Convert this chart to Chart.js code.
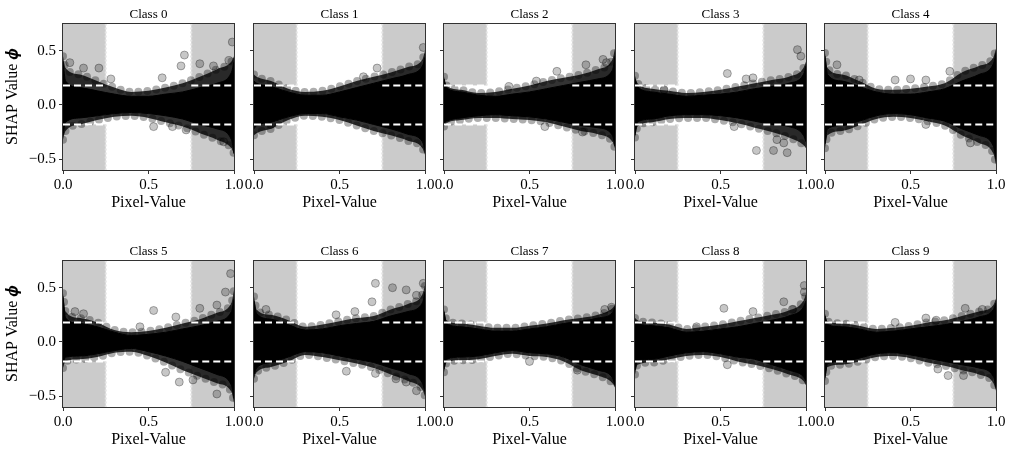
<!DOCTYPE html>
<html>
<head>
<meta charset="utf-8">
<title>SHAP values per class</title>
<script src="https://cdn.jsdelivr.net/npm/chart.js@4.4.1/dist/chart.umd.min.js"></script>
<style>
  body { margin: 0; background: #fff; }
  #page { position: relative; width: 1015px; height: 450px; overflow: hidden; }
  .panel { position: absolute; width: 291px; height: 218px; }
</style>
</head>
<body>
<div id="page"></div>
<script>
const classNames = ["Class 0", "Class 1", "Class 2", "Class 3", "Class 4",
                    "Class 5", "Class 6", "Class 7", "Class 8", "Class 9"];

const pixelGrid = [0, 0.015, 0.1, 0.2, 0.3, 0.4, 0.5, 0.6, 0.7, 0.8, 0.9, 0.985, 1.0];

// solid part of the SHAP cloud (upper / lower edge), one row per class
const coreUpper = [
    [0.40, 0.22, 0.16, 0.13, 0.10, 0.08, 0.08, 0.10, 0.12, 0.16, 0.20, 0.30, 0.40],
    [0.22, 0.20, 0.17, 0.12, 0.09, 0.09, 0.12, 0.16, 0.20, 0.24, 0.28, 0.36, 0.44],
    [0.24, 0.16, 0.12, 0.09, 0.08, 0.10, 0.12, 0.15, 0.18, 0.21, 0.24, 0.32, 0.45],
    [0.24, 0.17, 0.12, 0.10, 0.08, 0.09, 0.10, 0.12, 0.15, 0.17, 0.20, 0.28, 0.36],
    [0.45, 0.28, 0.22, 0.17, 0.12, 0.10, 0.10, 0.12, 0.15, 0.22, 0.28, 0.38, 0.48],
    [0.42, 0.22, 0.17, 0.14, 0.09, 0.06, 0.07, 0.09, 0.12, 0.15, 0.19, 0.28, 0.40],
    [0.38, 0.26, 0.21, 0.16, 0.11, 0.12, 0.15, 0.17, 0.19, 0.24, 0.28, 0.36, 0.46],
    [0.28, 0.17, 0.14, 0.12, 0.10, 0.10, 0.12, 0.14, 0.17, 0.19, 0.22, 0.27, 0.32],
    [0.20, 0.17, 0.15, 0.13, 0.09, 0.10, 0.12, 0.14, 0.17, 0.20, 0.24, 0.32, 0.38],
    [0.24, 0.16, 0.14, 0.12, 0.09, 0.10, 0.12, 0.14, 0.16, 0.19, 0.23, 0.30, 0.36]
];
const coreLower = [
    [-0.28, -0.16, -0.12, -0.10, -0.08, -0.07, -0.08, -0.10, -0.13, -0.18, -0.22, -0.32, -0.45],
    [-0.22, -0.19, -0.16, -0.11, -0.08, -0.08, -0.11, -0.14, -0.18, -0.22, -0.27, -0.34, -0.42],
    [-0.17, -0.15, -0.12, -0.10, -0.09, -0.10, -0.11, -0.13, -0.16, -0.19, -0.21, -0.28, -0.38],
    [-0.28, -0.16, -0.13, -0.10, -0.09, -0.09, -0.10, -0.12, -0.15, -0.18, -0.20, -0.28, -0.34],
    [-0.36, -0.22, -0.19, -0.15, -0.10, -0.08, -0.09, -0.12, -0.15, -0.22, -0.28, -0.38, -0.50],
    [-0.20, -0.14, -0.13, -0.11, -0.08, -0.06, -0.09, -0.13, -0.18, -0.24, -0.30, -0.40, -0.52],
    [-0.30, -0.24, -0.19, -0.14, -0.09, -0.10, -0.13, -0.16, -0.19, -0.24, -0.29, -0.38, -0.46],
    [-0.25, -0.16, -0.14, -0.13, -0.10, -0.08, -0.10, -0.11, -0.14, -0.21, -0.26, -0.33, -0.40],
    [-0.26, -0.17, -0.16, -0.13, -0.10, -0.09, -0.11, -0.14, -0.16, -0.21, -0.26, -0.32, -0.36],
    [-0.33, -0.20, -0.18, -0.15, -0.11, -0.10, -0.12, -0.15, -0.18, -0.21, -0.24, -0.32, -0.42]
];

// semi-transparent fringe around the solid part
const spreadUpper = [
    [0.45, 0.34, 0.28, 0.22, 0.16, 0.12, 0.13, 0.16, 0.20, 0.26, 0.33, 0.40, 0.45],
    [0.28, 0.26, 0.22, 0.15, 0.12, 0.13, 0.17, 0.22, 0.26, 0.30, 0.35, 0.42, 0.50],
    [0.26, 0.18, 0.14, 0.11, 0.12, 0.15, 0.18, 0.22, 0.25, 0.28, 0.33, 0.42, 0.52],
    [0.27, 0.20, 0.15, 0.13, 0.11, 0.12, 0.14, 0.17, 0.20, 0.23, 0.26, 0.34, 0.40],
    [0.48, 0.34, 0.28, 0.22, 0.15, 0.14, 0.15, 0.17, 0.20, 0.30, 0.36, 0.44, 0.52],
    [0.45, 0.28, 0.22, 0.18, 0.11, 0.09, 0.10, 0.13, 0.17, 0.21, 0.27, 0.36, 0.48],
    [0.42, 0.30, 0.25, 0.20, 0.14, 0.16, 0.19, 0.22, 0.24, 0.30, 0.35, 0.44, 0.52],
    [0.30, 0.20, 0.17, 0.15, 0.13, 0.13, 0.15, 0.17, 0.20, 0.22, 0.25, 0.31, 0.34],
    [0.22, 0.20, 0.18, 0.16, 0.12, 0.14, 0.16, 0.19, 0.22, 0.25, 0.29, 0.38, 0.44],
    [0.26, 0.19, 0.17, 0.15, 0.12, 0.13, 0.15, 0.18, 0.20, 0.24, 0.28, 0.34, 0.40]
];
const spreadLower = [
    [-0.32, -0.24, -0.18, -0.14, -0.11, -0.10, -0.12, -0.16, -0.20, -0.26, -0.32, -0.40, -0.45],
    [-0.28, -0.26, -0.22, -0.14, -0.10, -0.11, -0.14, -0.19, -0.24, -0.28, -0.33, -0.40, -0.46],
    [-0.20, -0.17, -0.14, -0.12, -0.12, -0.13, -0.14, -0.16, -0.20, -0.24, -0.27, -0.34, -0.40],
    [-0.30, -0.20, -0.16, -0.13, -0.12, -0.12, -0.14, -0.17, -0.21, -0.25, -0.30, -0.37, -0.40],
    [-0.40, -0.28, -0.24, -0.19, -0.13, -0.11, -0.12, -0.15, -0.19, -0.28, -0.35, -0.45, -0.55],
    [-0.24, -0.18, -0.16, -0.14, -0.10, -0.09, -0.13, -0.19, -0.26, -0.32, -0.38, -0.46, -0.56],
    [-0.34, -0.28, -0.23, -0.18, -0.12, -0.14, -0.17, -0.20, -0.24, -0.30, -0.36, -0.44, -0.50],
    [-0.28, -0.19, -0.17, -0.16, -0.13, -0.11, -0.13, -0.14, -0.18, -0.26, -0.31, -0.38, -0.42],
    [-0.30, -0.21, -0.19, -0.16, -0.13, -0.12, -0.14, -0.18, -0.21, -0.25, -0.30, -0.36, -0.40],
    [-0.36, -0.23, -0.21, -0.18, -0.14, -0.13, -0.15, -0.19, -0.22, -0.26, -0.30, -0.38, -0.45]
];

// isolated points outside the cloud, [pixel value, shap value]
const outliers = [
    [[0.71, 0.46], [0.69, 0.36], [0.99, 0.58], [0.28, 0.24], [0.58, 0.25], [0.53, -0.20], [0.64, -0.20],
     [0.94, -0.34], [0.04, 0.39], [0.12, 0.34], [0.21, 0.34], [0.80, 0.38], [0.88, 0.36], [0.97, 0.41], [0.72, -0.23]],
    [[0.72, 0.34], [0.64, 0.26], [0.99, 0.53], [0.10, -0.18]],
    [[0.66, 0.31], [0.83, 0.37], [0.93, 0.42], [0.59, -0.20], [0.38, 0.17], [0.54, 0.22], [0.95, 0.39], [0.81, -0.25]],
    [[0.54, 0.29], [0.65, 0.24], [0.69, 0.25], [0.95, 0.51], [0.97, 0.45], [0.71, -0.42], [0.81, -0.42],
     [0.89, -0.44], [0.87, -0.35], [0.83, -0.32], [0.17, 0.14], [0.58, -0.20]],
    [[0.41, 0.23], [0.50, 0.24], [0.59, 0.23], [0.73, 0.31], [0.07, 0.37], [0.20, 0.23], [0.59, -0.18], [0.85, -0.35]],
    [[0.53, 0.29], [0.66, 0.23], [0.98, 0.63], [0.95, 0.46], [0.90, 0.34], [0.80, 0.31], [0.90, -0.48],
     [0.68, -0.37], [0.76, -0.35], [0.07, 0.28], [0.12, 0.26], [0.60, -0.28], [0.45, 0.14]],
    [[0.71, 0.54], [0.69, 0.37], [0.59, 0.28], [0.48, 0.25], [0.07, 0.30], [0.54, -0.27], [0.71, -0.29],
     [0.81, 0.50], [0.89, 0.48], [0.95, 0.43], [0.99, 0.54], [0.95, -0.45], [0.89, -0.37], [0.83, -0.34]],
    [[0.50, -0.18], [0.94, 0.30], [0.98, 0.32], [0.78, -0.26]],
    [[0.52, 0.31], [0.69, 0.28], [0.99, 0.52], [0.99, 0.46], [0.54, -0.21], [0.36, 0.14], [0.87, 0.37], [0.92, 0.30]],
    [[0.41, 0.18], [0.59, 0.22], [0.65, 0.20], [0.82, 0.31], [0.92, 0.30], [0.72, -0.31], [0.66, -0.25], [0.81, -0.31]]
];

const xTickValues = [0, 0.5, 1];
const yTickValues = [-0.5, 0, 0.5];
const threshold = 0.18;
const shadeRanges = [[0, 0.25], [0.75, 1]];

const FONT = "'Liberation Serif', 'Times New Roman', serif";
const plotLefts = [63, 254, 444, 635, 825];
const plotTops = [24, 261];

function fmt(v) {
    if (Math.abs(v) < 1e-9) return "0.0";
    return v.toFixed(1).replace("-", "\u2212");
}

// grey boxes outside +/- threshold, with dotted inner edges
const shadePlugin = {
    id: "shade",
    beforeDatasetsDraw(chart) {
        const { ctx, chartArea, scales: { x, y } } = chart;
        const yHi = y.getPixelForValue(threshold);
        const yLo = y.getPixelForValue(-threshold);
        ctx.save();
        ctx.beginPath();
        ctx.rect(chartArea.left, chartArea.top, chartArea.width, chartArea.height);
        ctx.clip();
        shadeRanges.forEach(([a, b]) => {
            const x0 = x.getPixelForValue(a), x1 = x.getPixelForValue(b);
            ctx.fillStyle = "#cbcbcb";
            ctx.fillRect(x0, chartArea.top, x1 - x0, yHi - chartArea.top);
            ctx.fillRect(x0, yLo, x1 - x0, chartArea.bottom - yLo);
            ctx.strokeStyle = "#e4e4e4";
            ctx.lineWidth = 2;
            ctx.setLineDash([2, 2]);
            [a, b].filter(v => v > 0 && v < 1).forEach(v => {
                const px = x.getPixelForValue(v);
                ctx.beginPath();
                ctx.moveTo(px, chartArea.top);
                ctx.lineTo(px, yHi);
                ctx.moveTo(px, yLo);
                ctx.lineTo(px, chartArea.bottom);
                ctx.stroke();
            });
        });
        ctx.restore();
    },
    afterDatasetsDraw(chart) {
        const { ctx, chartArea, scales: { x, y } } = chart;
        ctx.save();
        ctx.strokeStyle = "#fff";
        ctx.lineWidth = 2;
        ctx.setLineDash([7, 4]);
        shadeRanges.forEach(([a, b]) => {
            [threshold, -threshold].forEach(t => {
                const py = y.getPixelForValue(t);
                ctx.beginPath();
                ctx.moveTo(x.getPixelForValue(a), py);
                ctx.lineTo(x.getPixelForValue(b), py);
                ctx.stroke();
            });
        });
        ctx.setLineDash([]);
        ctx.strokeStyle = "#333";
        ctx.lineWidth = 1;
        ctx.strokeRect(Math.round(chartArea.left) - 0.5, Math.round(chartArea.top) - 0.5,
                       Math.round(chartArea.width) + 1, Math.round(chartArea.height) + 1);
        ctx.restore();
    }
};

function band(ys, order) {
    return {
        data: pixelGrid.map((x, i) => ({ x: x, y: ys[i] })),
        borderColor: "#000",
        backgroundColor: "#000",
        borderWidth: 1,
        pointRadius: 0,
        cubicInterpolationMode: "monotone",
        fill: false,
        order: order
    };
}

// fuzzy edge: a row of translucent round dots along the outer envelope
function fringe(ys, fillTo) {
    const ds = band(ys, 2);
    ds.fill = fillTo;
    ds.backgroundColor = "rgba(0,0,0,0.8)";
    ds.borderColor = "rgba(0,0,0,0.32)";
    ds.borderWidth = 8;
    ds.borderDash = [0, 9];
    ds.borderCapStyle = "round";
    return ds;
}

const page = document.getElementById("page");

classNames.forEach((name, k) => {
    const row = Math.floor(k / 5), col = k % 5;
    const showY = col === 0;

    const div = document.createElement("div");
    div.className = "panel";
    div.style.left = (plotLefts[col] - 60) + "px";
    div.style.top = (plotTops[row] - 26) + "px";
    const canvas = document.createElement("canvas");
    div.appendChild(canvas);
    page.appendChild(div);

    const coreHi = band(coreUpper[k], 1);
    coreHi.fill = "+1";
    const coreLo = band(coreLower[k], 1);

    new Chart(canvas, {
        type: "line",
        data: {
            datasets: [
                {
                    data: outliers[k].map(([x, y]) => ({ x: x, y: y })),
                    showLine: false,
                    pointRadius: 4,
                    pointBackgroundColor: "rgba(0,0,0,0.22)",
                    pointBorderColor: "rgba(0,0,0,0.3)",
                    pointBorderWidth: 1,
                    order: 0
                },
                coreHi, coreLo,
                fringe(spreadUpper[k], "+1"),
                fringe(spreadLower[k], false)
            ]
        },
        options: {
            responsive: true,
            maintainAspectRatio: false,
            animation: false,
            devicePixelRatio: 1,
            layout: { padding: 0 },
            plugins: {
                legend: { display: false },
                tooltip: { enabled: false },
                title: {
                    display: true,
                    text: name,
                    color: "#000",
                    font: { family: FONT, size: 13, weight: "normal" },
                    padding: { top: 9, bottom: 1 }
                }
            },
            scales: {
                x: {
                    type: "linear",
                    min: 0,
                    max: 1,
                    afterBuildTicks: s => { s.ticks = xTickValues.map(v => ({ value: v })); },
                    afterFit: s => { s.height = 46; },
                    grid: { drawOnChartArea: false, tickLength: 4, color: "#333" },
                    border: { display: false },
                    ticks: {
                        maxRotation: 0,
                        autoSkip: false,
                        padding: 2,
                        color: "#000",
                        font: { family: FONT, size: 15 },
                        callback: v => fmt(v)
                    },
                    title: {
                        display: true,
                        text: "Pixel-Value",
                        color: "#000",
                        font: { family: FONT, size: 16 },
                        padding: { top: 0, bottom: 4 }
                    }
                },
                y: {
                    type: "linear",
                    min: -0.6,
                    max: 0.75,
                    afterBuildTicks: s => { s.ticks = yTickValues.map(v => ({ value: v })); },
                    afterFit: s => { s.width = 60; },
                    grid: { drawOnChartArea: false, tickLength: 4, color: "#333" },
                    border: { display: false },
                    ticks: {
                        padding: 3,
                        color: "#000",
                        font: { family: FONT, size: 15 },
                        callback: v => showY ? fmt(v) : ""
                    },
                    title: {
                        display: showY,
                        text: "SHAP Value \u{1D753}",
                        color: "#000",
                        font: { family: FONT, size: 16 },
                        padding: { top: 0, bottom: 2 }
                    }
                },
                // empty right-hand axis so the centred title sits over the plot
                spacer: {
                    type: "linear",
                    position: "right",
                    axis: "y",
                    afterFit: s => { s.width = 60; },
                    grid: { display: false },
                    border: { display: false },
                    ticks: { display: false }
                }
            }
        },
        plugins: [shadePlugin]
    });
});
</script>
</body>
</html>
